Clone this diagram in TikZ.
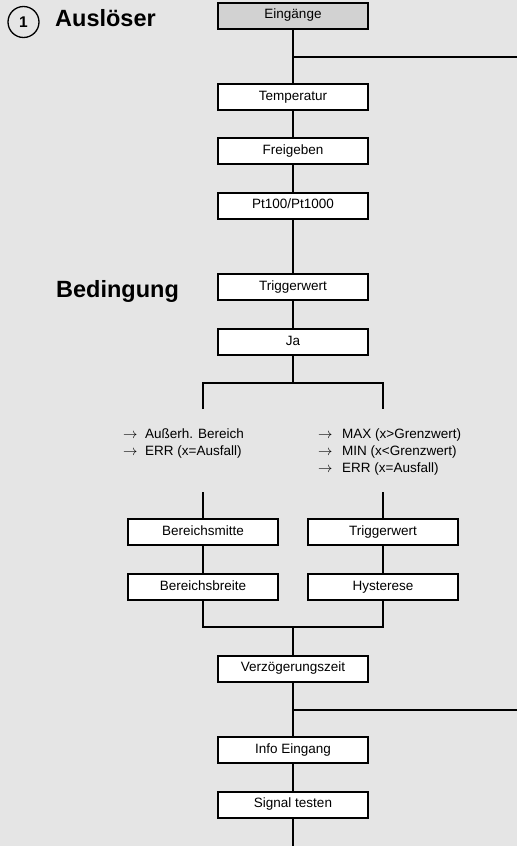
\documentclass[tikz,border=0pt]{standalone}
\usepackage{fontspec}
\setmainfont{Liberation Sans}
\definecolor{bgcol}{HTML}{E5E5E5}
\definecolor{eingcol}{HTML}{D2D2D2}
\begin{document}
\begin{tikzpicture}[x=1pt,y=-1pt,
  box/.style={draw=black,line width=2pt,fill=white,minimum width=150pt,minimum height=26pt,inner sep=0pt,
    text height=9.7pt,text depth=2.9pt,font=\fontsize{13.5}{16}\selectfont},
  ln/.style={line width=2pt},
  lbl/.style={anchor=base west,inner sep=0pt,font=\fontsize{13.5}{16}\selectfont},
  ttl/.style={anchor=base west,inner sep=0pt,font=\bfseries\fontsize{23.5}{28}\selectfont}]
\fill[bgcol] (0,0) rectangle (517,846);
\useasboundingbox (0,0) rectangle (517,846);

% title labels
\node[circle,draw,line width=1.3pt,minimum size=31pt,inner sep=0pt,font=\bfseries\fontsize{15.5}{18}\selectfont] (c1) at (23.5,22) {1};
\node[ttl] (aus) at (55,26) {Auslöser};
\node[ttl] (bed) at (56,297) {Bedingung};

% main boxes
\node[box,fill=eingcol] (ein) at (293,15.5) {Eingänge};
\node[box] (temp) at (293,97) {Temperatur};
\node[box] (frei) at (293,151) {Freigeben};
\node[box] (pt) at (293,205.5) {Pt100/Pt1000};
\node[box] (trig) at (293,287) {Triggerwert};
\node[box] (ja) at (293,342) {Ja};
\node[box] (bm) at (203,532) {Bereichsmitte};
\node[box] (tw) at (383,532) {Triggerwert};
\node[box] (bb) at (203,587) {Bereichsbreite};
\node[box] (hy) at (383,587) {Hysterese};
\node[box] (vz) at (293,668.5) {Verzögerungszeit};
\node[box] (ie) at (293,750) {Info Eingang};
\node[box] (st) at (293,804.5) {Signal testen};

% lists
\node[lbl] (la1) at (123,438) {$\rightarrow$};
\node[lbl] (lt1) at (145,438) {Außerh. Bereich};
\node[lbl] (la2) at (123,455) {$\rightarrow$};
\node[lbl] (lt2) at (145,455) {ERR (x=Ausfall)};
\node[lbl] (ra1) at (318,438) {$\rightarrow$};
\node[lbl] (rt1) at (342,438) {MAX (x>Grenzwert)};
\node[lbl] (ra2) at (318,455) {$\rightarrow$};
\node[lbl] (rt2) at (342,455) {MIN (x<Grenzwert)};
\node[lbl] (ra3) at (318,472) {$\rightarrow$};
\node[lbl] (rt3) at (342,472) {ERR (x=Ausfall)};

% coordinates
\coordinate (j1) at (293,57);
\coordinate (e1) at (517,57);
\coordinate (s) at (293,383);
\coordinate (sl) at (203,383);
\coordinate (sr) at (383,383);
\coordinate (dl) at (203,409);
\coordinate (dr) at (383,409);
\coordinate (ul) at (203,492);
\coordinate (ur) at (383,492);
\coordinate (m) at (293,627);
\coordinate (j2) at (293,710);
\coordinate (e2) at (517,710);
\coordinate (bot) at (293,846);

% connectors
\draw[ln] (ein) -- (temp);
\draw[ln] (j1) -- (e1);
\draw[ln] (temp) -- (frei);
\draw[ln] (frei) -- (pt);
\draw[ln] (pt) -- (trig);
\draw[ln] (trig) -- (ja);
\draw[ln] (ja.south) -- (s);
\draw[ln] (dl) -- (sl) -- (sr) -- (dr);
\draw[ln] (ul) -- (bm.north);
\draw[ln] (ur) -- (tw.north);
\draw[ln] (bm) -- (bb);
\draw[ln] (tw) -- (hy);
\draw[ln] (bb.south) -- (bb.south |- m) -- (hy.south |- m) -- (hy.south);
\draw[ln] (m) -- (vz.north);
\draw[ln] (vz) -- (ie);
\draw[ln] (j2) -- (e2);
\draw[ln] (ie) -- (st);
\draw[ln] (st.south) -- (bot);
\end{tikzpicture}
\end{document}
